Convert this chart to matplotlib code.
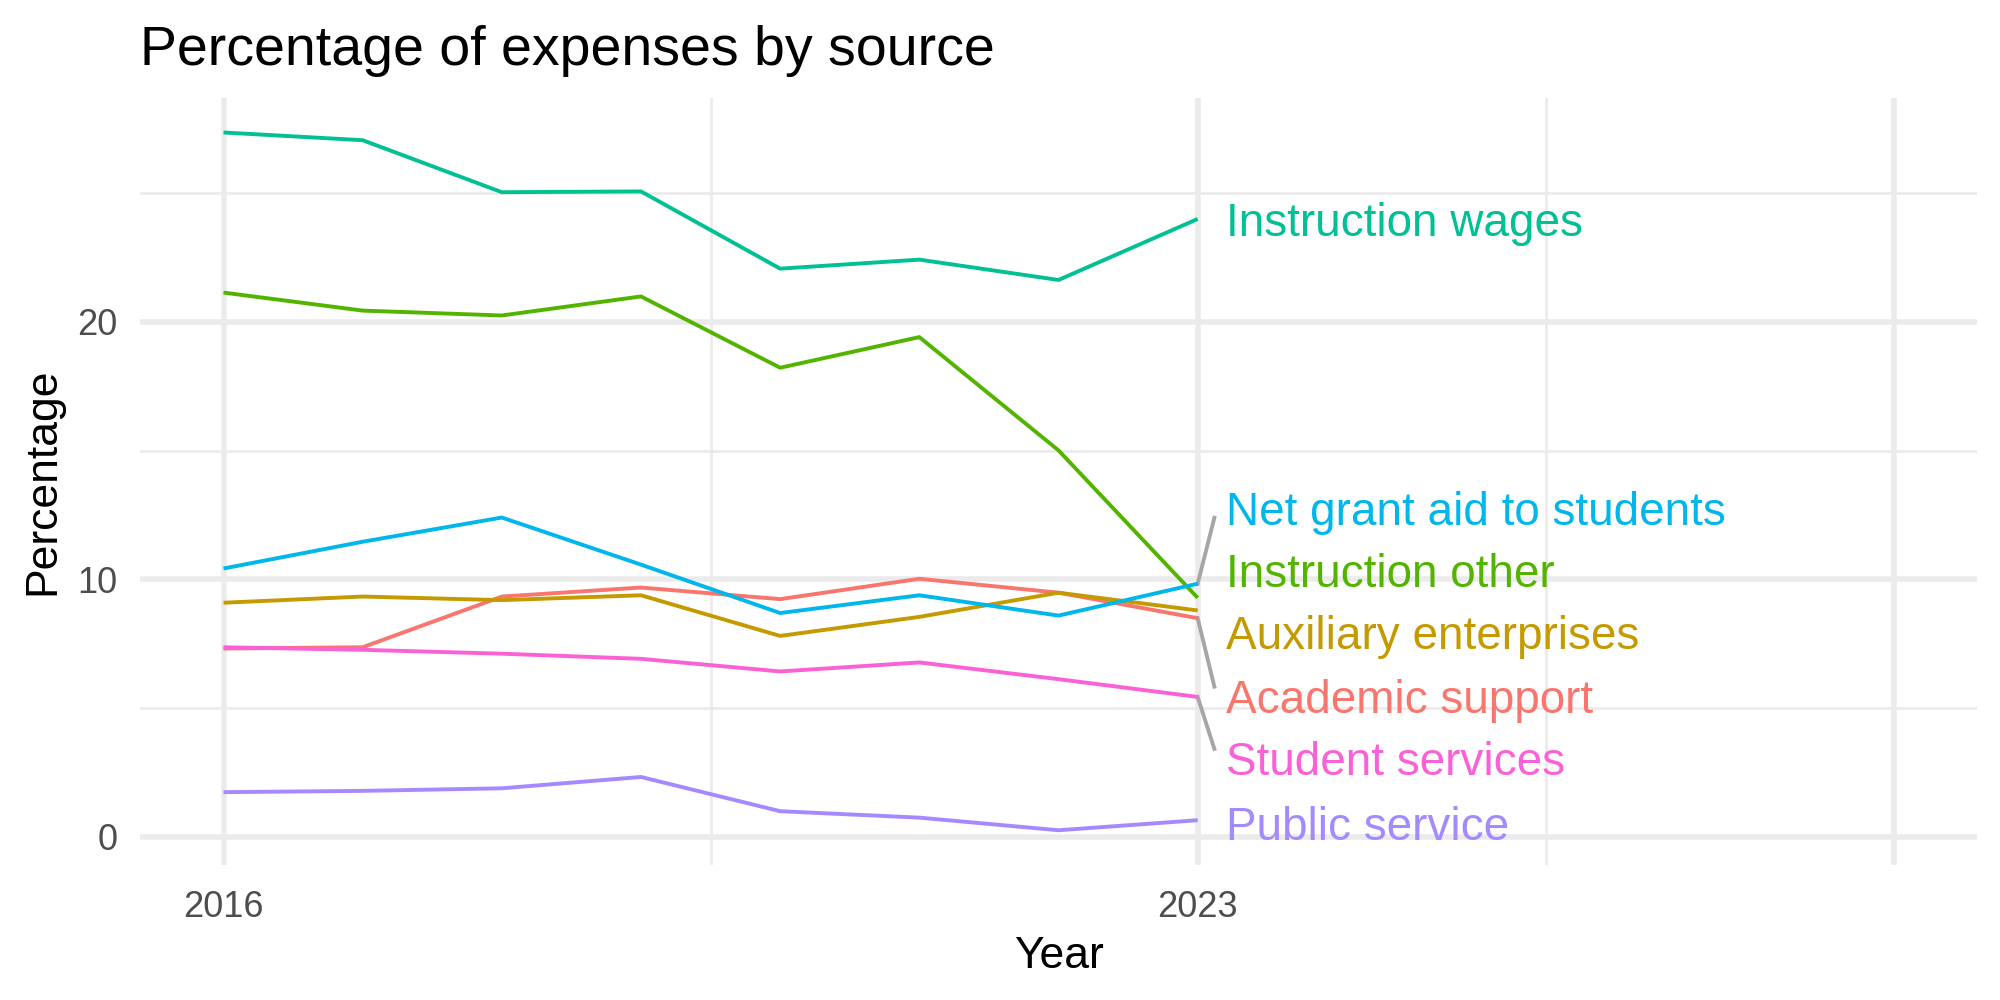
import matplotlib
matplotlib.use('Agg')
from matplotlib import pyplot as plt

# data
years = [2016, 2017, 2018, 2019, 2020, 2021, 2022, 2023]
instruction_wages = [27.36, 27.06, 25.04, 25.07, 22.07, 22.42, 21.63, 24.00]
instruction_other = [21.14, 20.44, 20.25, 20.99, 18.22, 19.41, 15.01, 9.28]
net_grant_aid = [10.42, 11.46, 12.40, 10.57, 8.69, 9.38, 8.59, 9.83]
academic_support = [7.31, 7.36, 9.33, 9.68, 9.23, 10.02, 9.48, 8.49]
auxiliary = [9.09, 9.33, 9.19, 9.38, 7.80, 8.54, 9.48, 8.79]
student_services = [7.36, 7.26, 7.11, 6.91, 6.42, 6.77, 6.12, 5.43]
public_service = [1.73, 1.78, 1.88, 2.32, 0.99, 0.74, 0.25, 0.64]

names = ['Academic support', 'Auxiliary enterprises', 'Instruction other',
         'Instruction wages', 'Net grant aid to students', 'Public service',
         'Student services']
series = [academic_support, auxiliary, instruction_other, instruction_wages,
          net_grant_aid, public_service, student_services]
colors = ['#F8766D', '#C49A00', '#53B400', '#00C094', '#00B6EB', '#A58AFF', '#FB61D7']

# where the repelled labels ended up (layout, not data)
label_y = [5.43, 7.90, 10.32, 23.95, 12.74, 0.49, 3.01]
draw_segment = [True, False, False, False, True, False, True]

plt.rcParams['font.family'] = ['Liberation Sans', 'DejaVu Sans']

fig = plt.figure(figsize=(10, 5), dpi=200)
ax = fig.add_axes([0.07, 0.135, 0.9185, 0.767])

for s, name, c, ly, seg in zip(series, names, colors, label_y, draw_segment):
    ax.plot(years, s, color=c, lw=1.4, solid_capstyle='butt', zorder=3)
    x_end, y_end = years[-1], s[-1]
    if seg:
        # segment goes to the near edge of the label box
        edge = ly - 0.35 if ly > y_end else ly + 0.4
        ax.plot([x_end, x_end + 0.12], [y_end, edge], color='#A6A6A6', lw=1.4, zorder=2)
    ax.text(x_end + 0.2, ly - 0.15, name, color=c, fontsize=16.5, va='center', ha='left', zorder=4)

# axis limits like ggplot (data range + 5%)
ax.set_xlim(2015.4, 2028.6)
ax.set_ylim(-1.1, 28.7)

ax.set_xticks([2016, 2023, 2028])
ax.set_xticklabels(['2016', '2023', ''])
ax.set_xticks([2019.5, 2025.5], minor=True)
ax.set_yticks([0, 10, 20])
ax.set_yticks([5, 15, 25], minor=True)

ax.grid(which='major', color='#EBEBEB', lw=2.0)
ax.grid(which='minor', color='#EBEBEB', lw=1.0)
ax.set_axisbelow(True)
for sp in ax.spines.values():
    sp.set_visible(False)
ax.tick_params(which='both', length=0, labelsize=13, labelcolor='#4D4D4D')
ax.tick_params(axis='x', pad=9)
ax.tick_params(axis='y', pad=8)

ax.set_xlabel('Year', fontsize=16, labelpad=4)
ax.set_ylabel('Percentage', fontsize=16, labelpad=5)
ax.set_title('Percentage of expenses by source', fontsize=20, loc='left', pad=12)

fig.savefig('out.png', dpi=200)
